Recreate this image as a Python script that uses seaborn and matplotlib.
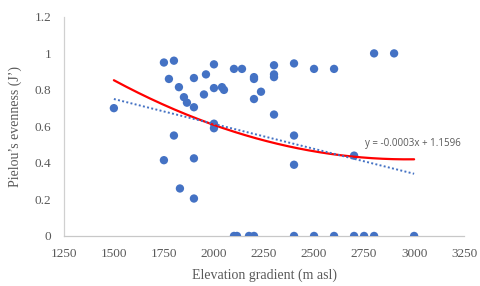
import numpy as np
import pandas as pd
import matplotlib
matplotlib.use("Agg")
import matplotlib.pyplot as plt
import seaborn as sns

# elevation (m asl) and Pielou's evenness per plot
elevation = [1500, 1750, 1800, 1775, 1825, 1850, 1865, 1900, 1900, 1950,
             1960, 2000, 2000, 2040, 2050, 2000, 2000, 1800, 2100, 2140,
             2200, 2200, 2300, 2300, 2300, 2400, 2500, 2600, 2800, 2900,
             2200, 2235, 2300, 2400, 1750, 1900, 1830, 1900, 2100, 2115,
             2175, 2200, 2400, 2500, 2600, 2700, 2750, 2800, 3000, 2400,
             2700]
evenness = [0.70, 0.95, 0.96, 0.86, 0.815, 0.76, 0.73, 0.705, 0.865, 0.775,
            0.885, 0.94, 0.81, 0.815, 0.80, 0.615, 0.59, 0.55, 0.915, 0.915,
            0.87, 0.86, 0.935, 0.885, 0.87, 0.945, 0.915, 0.915, 1.0, 1.0,
            0.75, 0.79, 0.665, 0.55, 0.415, 0.425, 0.26, 0.205, 0, 0,
            0, 0, 0, 0, 0, 0, 0, 0, 0, 0.39,
            0.44]

# trendlines
trend_range = [1500, 3000]
lin_coef = [-0.000273, 1.1596]              # y = a*x + b
quad_coef = [0.2013, -0.5907, 0.853]        # in u = (x - 1500) / 1000

x_ticks = [1250, 1500, 1750, 2000, 2250, 2500, 2750, 3000, 3250]
y_ticks = [0, 0.2, 0.4, 0.6, 0.8, 1.0, 1.2]
y_ticklabels = ["0", "0.2", "0.4", "0.6", "0.8", "1", "1.2"]

df = pd.DataFrame({"elev": elevation, "J": evenness})

xs = np.linspace(trend_range[0], trend_range[1], 200)
trend = pd.DataFrame({
    "elev": xs,
    "lin": np.polyval(lin_coef, xs),
    "quad": np.polyval(quad_coef, (xs - 1500) / 1000),
})

sns.set_theme(style="white")
plt.rcParams['font.family'] = ['Liberation Serif', 'DejaVu Serif']

blue = "#4472C4"
grey = "#595959"

fig = plt.figure(figsize=(4.8, 2.86), dpi=100)
ax = fig.add_axes([0.133, 0.175, 0.834, 0.766])

sns.scatterplot(data=df, x="elev", y="J", ax=ax, color=blue, s=36,
                edgecolor="none", zorder=3)
sns.lineplot(data=trend, x="elev", y="quad", ax=ax, color="red", lw=1.6, zorder=4)
sns.lineplot(data=trend, x="elev", y="lin", ax=ax, color=blue, lw=1.4,
             ls=(0, (1, 1.2)), zorder=4)

ax.text(2755, 0.505, "y = -0.0003x + 1.1596", family=["Open Sans", "DejaVu Sans"],
        fontsize=7, color=grey, ha="left", va="center")

ax.set_xlim(1250, 3250)
ax.set_ylim(0, 1.2)
ax.set_xticks(x_ticks)
ax.set_yticks(y_ticks)
ax.set_yticklabels(y_ticklabels)
ax.tick_params(axis="x", length=0, labelsize=9.5, labelcolor=grey, pad=9)
ax.tick_params(axis="y", length=0, labelsize=9.5, labelcolor=grey, pad=9)
ax.set_xlabel("Elevation gradient (m asl)", fontsize=10, color=grey, labelpad=6)
ax.set_ylabel("Pielou\u2019s evenness (J\u2019)", fontsize=10, color=grey, labelpad=9)

for side in ["top", "right"]:
    ax.spines[side].set_visible(False)
ax.spines["left"].set_color("#d0d0d0")
ax.spines["bottom"].set_color("#c8c8c8")
ax.spines["left"].set_linewidth(0.9)
ax.spines["bottom"].set_linewidth(0.9)

fig.savefig("out.png", dpi=100)
